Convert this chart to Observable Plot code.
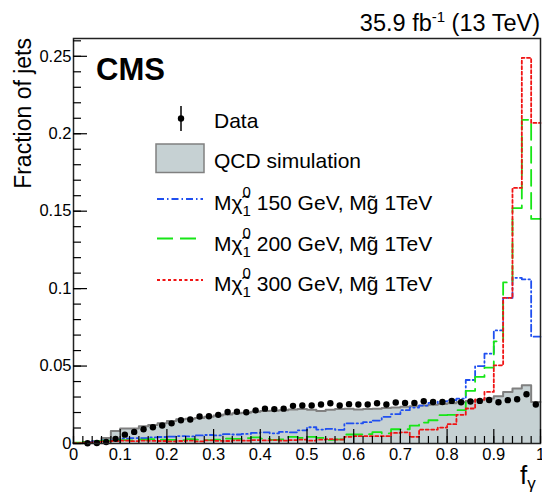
<!DOCTYPE html>
<html><head><meta charset="utf-8">
<script src="https://cdn.jsdelivr.net/npm/d3@7"></script>
<script src="https://cdn.jsdelivr.net/npm/@observablehq/plot@0.6"></script>
<style>
html,body{margin:0;padding:0;background:#fff;}
#chart svg{display:block;}
</style>
</head><body><div id="chart"></div>
<script>
// f_gamma histograms: 50 bins of width 0.02 from 0 to 1
const binWidth = 0.02;

const dataFrac = [null, 0.0002, 0.0003, 0.001, 0.003, 0.0057, 0.0075, 0.0092, 0.0105, 0.0116,
  0.013, 0.015, 0.0155, 0.0174, 0.0176, 0.0185, 0.0203, 0.0205, 0.0202, 0.0214,
  0.0225, 0.0222, 0.0225, 0.0243, 0.0245, 0.0245, 0.0252, 0.026, 0.0245, 0.0254,
  0.0252, 0.0252, 0.026, 0.0252, 0.0265, 0.0262, 0.0262, 0.0273, 0.0268, 0.0268,
  0.0275, 0.0266, 0.0271, 0.0275, 0.0281, 0.0266, 0.028, 0.0286, 0.0318, 0.0252];

const qcdFrac = [0.0001, 0.0004, 0.0015, 0.0036, 0.008, 0.0097, 0.0097, 0.0112, 0.012, 0.013,
  0.0145, 0.0157, 0.016, 0.0165, 0.0172, 0.018, 0.0188, 0.0195, 0.0198, 0.0205,
  0.021, 0.0212, 0.0215, 0.022, 0.0222, 0.0218, 0.021, 0.0218, 0.0222, 0.0225,
  0.022, 0.0222, 0.0225, 0.023, 0.0232, 0.0238, 0.024, 0.0245, 0.025, 0.0255,
  0.026, 0.0268, 0.0275, 0.028, 0.029, 0.0305, 0.0333, 0.0355, 0.0376, 0.0268];

const sig150 = [0.0003, 0.0008, 0.0015, 0.002, 0.0025, 0.0032, 0.0035, 0.0035, 0.004, 0.0042,
  0.0045, 0.0048, 0.0046, 0.0052, 0.0055, 0.0052, 0.006, 0.0058, 0.0062, 0.0068,
  0.0072, 0.0066, 0.0075, 0.0072, 0.0085, 0.0105, 0.009, 0.0095, 0.0088, 0.013,
  0.013, 0.0138, 0.0148, 0.0172, 0.019, 0.0215, 0.0232, 0.0245, 0.0262, 0.0272,
  0.028, 0.029, 0.041, 0.05, 0.058, 0.073, 0.094, 0.107, 0.106, 0.069];

const sig200 = [0.0005, 0.001, 0.0015, 0.0018, 0.0022, 0.0022, 0.002, 0.0025, 0.0028, 0.0025,
  0.0023, 0.0022, 0.0028, 0.0025, 0.0022, 0.0025, 0.0032, 0.003, 0.0035, 0.004,
  0.0032, 0.0024, 0.0026, 0.0043, 0.0036, 0.0043, 0.0036, 0.0024, 0.0026, 0.0058,
  0.0058, 0.006, 0.0073, 0.0065, 0.0092, 0.0092, 0.0115, 0.0135, 0.015, 0.0183,
  0.0185, 0.0215, 0.034, 0.043, 0.049, 0.066, 0.104, 0.152, 0.209, 0.145];

const sig300 = [0.0002, 0.0006, 0.001, 0.0014, 0.0016, 0.0018, 0.0015, 0.0018, 0.0017, 0.0016,
  0.0014, 0.0016, 0.0018, 0.0014, 0.002, 0.0017, 0.0016, 0.002, 0.0018, 0.0022,
  0.002, 0.0022, 0.0018, 0.0022, 0.0025, 0.0018, 0.0025, 0.0028, 0.0025, 0.0043,
  0.0047, 0.0047, 0.0047, 0.0047, 0.0068, 0.0072, 0.0043, 0.009, 0.009, 0.0103,
  0.0125, 0.0185, 0.0226, 0.0284, 0.0333, 0.0505, 0.094, 0.165, 0.249, 0.207];

const yTicks = [0, 0.05, 0.1, 0.15, 0.2, 0.25];
const yTickLabels = ["0", "0.05", "0.1", "0.15", "0.2", "0.25"];
const xTicks = [0, 0.1, 0.2, 0.3, 0.4, 0.5, 0.6, 0.7, 0.8, 0.9, 1];
const xTickLabels = ["0", "0.1", "0.2", "0.3", "0.4", "0.5", "0.6", "0.7", "0.8", "0.9", "1"];
const yMinor = d3.range(0, 0.2605, 0.01);
const xMinor = d3.range(0, 1.0001, 0.02);

const colors = {qcdFill: "#c6d1d3", qcdLine: "#808080", s150: "#1f4ff0", s200: "#17e617", s300: "#f01414"};
const dashes = {s150: "7,3,1.5,3", s200: "16,7", s300: "3,2.5"};

function stepPoints(values) {
  const pts = values.map((v, i) => ({x: i * binWidth, y: v}));
  pts.push({x: values.length * binWidth, y: values[values.length - 1]});
  return pts;
}
const dataPts = dataFrac.map((v, i) => ({x: (i + 0.5) * binWidth, y: v})).filter(d => d.y != null);

const W = 542, H = 492;
const font = "'Liberation Sans', Arial, Helvetica, sans-serif";

const plot = Plot.plot({
  width: W, height: H,
  marginLeft: 73, marginRight: 2, marginTop: 38, marginBottom: 49,
  style: {fontFamily: font, fontSize: "16.5px", color: "black", background: "white"},
  x: {domain: [0, 1]},
  y: {domain: [0, 0.2615]},
  marks: [
    Plot.areaY(stepPoints(qcdFrac), {x: "x", y: "y", curve: "step-after", fill: colors.qcdFill}),
    Plot.line(stepPoints(qcdFrac), {x: "x", y: "y", curve: "step-after", stroke: colors.qcdLine, strokeWidth: 2}),
    Plot.line(stepPoints(sig150), {x: "x", y: "y", curve: "step-after", stroke: colors.s150, strokeWidth: 1.8, strokeDasharray: dashes.s150}),
    Plot.line(stepPoints(sig200), {x: "x", y: "y", curve: "step-after", stroke: colors.s200, strokeWidth: 1.8, strokeDasharray: dashes.s200}),
    Plot.line(stepPoints(sig300), {x: "x", y: "y", curve: "step-after", stroke: colors.s300, strokeWidth: 1.8, strokeDasharray: dashes.s300}),
    Plot.dot(dataPts, {x: "x", y: "y", r: 3.2, fill: "black", stroke: null}),
    Plot.frame({stroke: "#222", strokeWidth: 1.5}),
    Plot.axisX({ticks: xMinor, tickSize: -7, tickFormat: () => "", label: null, strokeWidth: 1.2}),
    Plot.axisX({ticks: xTicks, tickSize: -14, tickPadding: 19, tickFormat: (d, i) => xTickLabels[i], label: null, strokeWidth: 1.2, fontSize: 16.5}),
    Plot.axisY({ticks: yMinor, tickSize: -8, tickFormat: () => "", label: null, strokeWidth: 1.2}),
    Plot.axisY({ticks: yTicks, tickSize: -14, tickPadding: 16, tickFormat: (d, i) => yTickLabels[i], label: null, strokeWidth: 1.2, fontSize: 16.5})
  ]
});

document.getElementById("chart").appendChild(plot);

// Annotations and legend
const svg = d3.select(plot);
const g = svg.append("g").attr("font-family", font).attr("fill", "black").attr("text-anchor", "start");

// Luminosity label
const lumi = g.append("text").attr("x", 540).attr("y", 31).attr("text-anchor", "end").attr("font-size", 23.5);
lumi.append("tspan").text("35.9 fb");
lumi.append("tspan").attr("font-size", 15).attr("dy", -9).text("-1");
lumi.append("tspan").attr("dy", 9).text(" (13 TeV)");

// CMS
g.append("text").attr("x", 96).attr("y", 80).attr("font-size", 31).attr("font-weight", "bold").text("CMS");

// Axis titles
g.append("text").attr("transform", "translate(31,38) rotate(-90)").attr("text-anchor", "end")
  .attr("font-size", 23).text("Fraction of jets");
const xt = g.append("text").attr("x", 520).attr("y", 484).attr("font-size", 26);
xt.append("tspan").text("f");
xt.append("tspan").attr("font-size", 17).attr("dy", 5).text("γ");

// Legend
const lx = 214, symX0 = 157, symX1 = 203;
// Data
g.append("line").attr("x1", 181).attr("x2", 181).attr("y1", 106).attr("y2", 131).attr("stroke", "black").attr("stroke-width", 1.5);
g.append("circle").attr("cx", 181).attr("cy", 118.5).attr("r", 3.2).attr("fill", "black");
g.append("text").attr("x", lx).attr("y", 128).attr("font-size", 21).text("Data");
// QCD
g.append("rect").attr("x", 156).attr("y", 144).attr("width", 48).attr("height", 28.5)
  .attr("fill", colors.qcdFill).attr("stroke", colors.qcdLine).attr("stroke-width", 1.5);
g.append("text").attr("x", lx).attr("y", 167.5).attr("font-size", 21).text("QCD simulation");

const sigLegend = [
  {mass: "150", color: colors.s150, dash: dashes.s150, ly: 199, ty: 210},
  {mass: "200", color: colors.s200, dash: dashes.s200, ly: 238.5, ty: 251},
  {mass: "300", color: colors.s300, dash: dashes.s300, ly: 280, ty: 290.5}
];
for (const s of sigLegend) {
  g.append("line").attr("x1", symX0).attr("x2", symX1).attr("y1", s.ly).attr("y2", s.ly)
    .attr("stroke", s.color).attr("stroke-width", 1.8).attr("stroke-dasharray", s.dash);
  const t = g.append("text").attr("x", lx).attr("y", s.ty).attr("font-size", 21);
  t.append("tspan").text("M");
  t.append("tspan").text("\u03C7\u0303");
  t.append("tspan").attr("font-size", 15).attr("dy", -13).text("0");
  t.append("tspan").attr("font-size", 15).attr("dx", -8.3).attr("dy", 19).text("1");
  t.append("tspan").attr("dy", -6).text(" " + s.mass + " GeV, Mg\u0303 1TeV");
}
</script>
</body></html>
